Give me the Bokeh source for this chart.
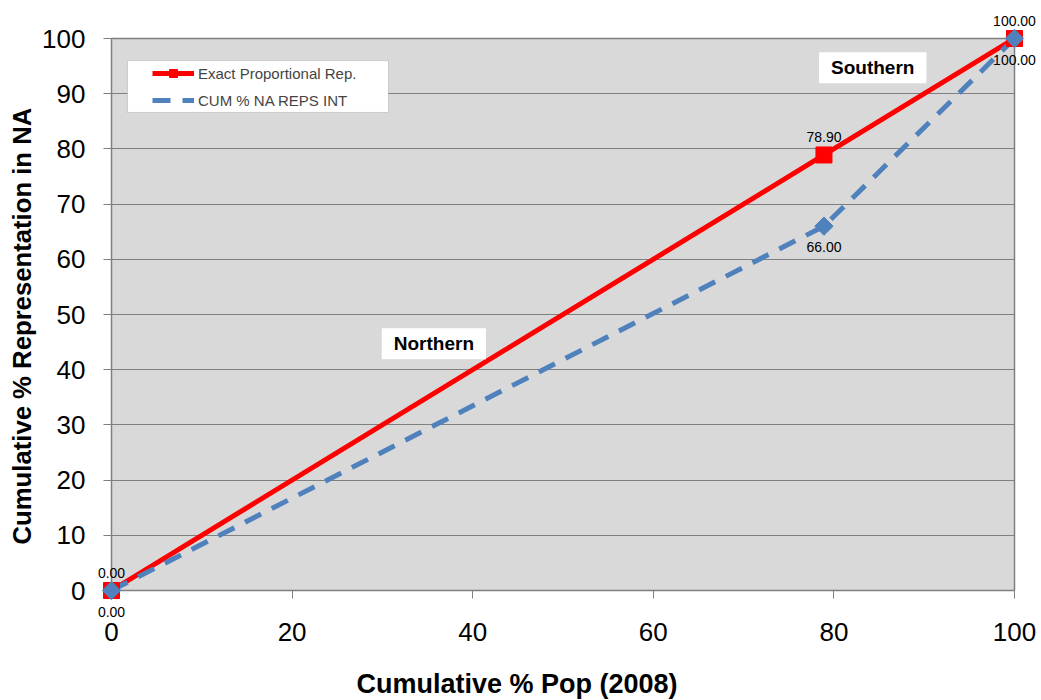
from math import pi
from bokeh.plotting import figure
from bokeh.models import Legend, LegendItem, Label, Range1d, FixedTicker, BoxAnnotation
from bokeh.core.properties import value
from bokeh.embed import file_html
from bokeh.resources import INLINE

x_exact = [0, 78.9, 100]
y_exact = [0, 78.9, 100]
x_cum = [0, 78.9, 100]
y_cum = [0, 66.0, 100]
x_ticks = [0, 20, 40, 60, 80, 100]
y_ticks = [0, 10, 20, 30, 40, 50, 60, 70, 80, 90, 100]
regions = ["Northern", "Southern"]
region_x = [35.7, 84.3]
region_y = [44.7, 94.7]
x_title_text = "Cumulative % Pop (2008)"
y_title_text = "Cumulative % Representation in NA"

FONT = "Liberation Sans"

p = figure(width=1041, height=700, output_backend="svg", toolbar_location=None,
           x_range=Range1d(0, 100), y_range=Range1d(0, 100),
           min_border_left=111, min_border_right=27, min_border_top=38, min_border_bottom=110)
p.background_fill_color = "#D9D9D9"
p.border_fill_color = "white"
p.outline_line_color = "#808080"
p.outline_line_width = 1.5

p.xgrid.grid_line_color = None
p.ygrid.grid_line_color = "#808080"
p.ygrid.grid_line_width = 1

for ax in (p.xaxis, p.yaxis):
    ax.axis_line_color = "#808080"
    ax.major_tick_line_color = "#808080"
    ax.major_tick_out = 8
    ax.major_tick_in = 0
    ax.minor_tick_line_color = None
    ax.major_label_text_font = FONT
    ax.major_label_text_font_size = "26px"
    ax.major_label_text_color = "black"
p.xaxis.ticker = FixedTicker(ticks=x_ticks)
p.yaxis.ticker = FixedTicker(ticks=y_ticks)
p.xaxis.major_label_standoff = 24
p.yaxis.major_label_standoff = 18

# axis titles (placed outside the plot frame, drawn unclipped)
p.text(x=[44.9], y=[-16.85], text=[x_title_text], text_align="center", text_baseline="middle",
       text_font=value(FONT), text_font_style="bold", text_font_size="27px",
       text_color="black", level="overlay")
p.text(x=[-9.86], y=[47.9], text=[y_title_text], angle=pi / 2, text_align="center",
       text_baseline="middle", text_font=value(FONT), text_font_style="bold",
       text_font_size="25.7px", text_color="black", level="overlay")

r1 = p.line(x_exact, y_exact, line_color="#FF0000", line_width=5)
m1 = p.scatter(x_exact, y_exact, marker="square", size=16, fill_color="#FF0000",
               line_color="#FF0000", level="overlay")
r2 = p.line(x_cum, y_cum, line_color="#4F81BD", line_width=5, line_dash="18 12")
m2 = p.scatter(x_cum, y_cum, marker="square", angle=pi / 4, size=13, fill_color="#4F81BD",
               line_color="#4F81BD", level="overlay")
# legend-only swatch (diamond shape as in the legend)
m2_leg = p.scatter(x=[], y=[], marker="diamond", size=16, fill_color="#4F81BD",
                   line_color="#4F81BD")

p.text(x=x_exact, y=y_exact, text=["%.2f" % v for v in y_exact], text_align="center",
       text_baseline="bottom", y_offset=-13, text_font=value(FONT),
       text_font_size="14px", text_color="black", level="overlay")
p.text(x=x_cum, y=y_cum, text=["%.2f" % v for v in y_cum], text_align="center",
       text_baseline="top", y_offset=16, text_font=value(FONT),
       text_font_size="14px", text_color="black", level="overlay")

for name, rx, ry in zip(regions, region_x, region_y):
    p.add_layout(Label(x=rx, y=ry, text=name, text_align="center", text_baseline="middle",
                       text_font=FONT, text_font_style="bold", text_font_size="19px",
                       text_color="black", background_fill_color="white", padding=(12, 5)))

# legend frame (white box with grey border)
p.add_layout(BoxAnnotation(left=1.77, right=30.67, top=96.0, bottom=86.6,
                           fill_color="white", fill_alpha=1, line_color="#808080",
                           line_width=1, level="annotation"))

legend = Legend(items=[LegendItem(label="Exact Proportional Rep.", renderers=[r1, m1]),
                       LegendItem(label="CUM % NA REPS INT", renderers=[r2, m2_leg])],
                location=(41, 480))
legend.label_text_font = FONT
legend.label_text_font_size = "15px"
legend.background_fill_alpha = 0
legend.border_line_color = None
legend.glyph_width = 42
legend.glyph_height = 20
legend.label_height = 20
legend.spacing = 7
legend.padding = 0
legend.margin = 0
legend.label_standoff = 4
p.add_layout(legend)

open("out.html", "w").write(file_html(p, INLINE))
